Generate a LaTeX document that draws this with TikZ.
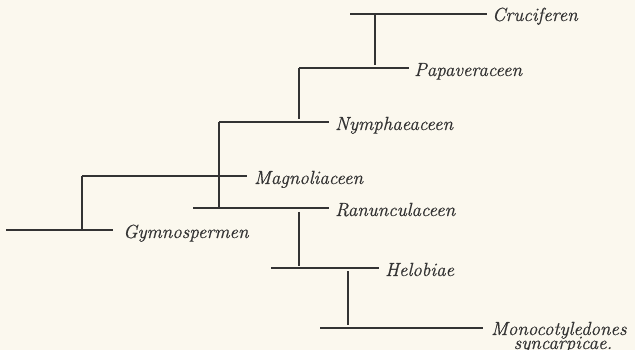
\documentclass[tikz,border=0pt]{standalone}
\usepackage{fontspec}
\newfontfamily\labfont{Latin Modern Roman}[ItalicFeatures={FakeBold=0.6}]
\definecolor{paper}{HTML}{FBF8EE}
\definecolor{ink}{HTML}{333333}
\begin{document}
\begin{tikzpicture}[x=1pt,y=-1pt,
  branch/.style={draw=ink,line width=1.9pt},
  taxon/.style={anchor=base west,inner sep=0pt,text=ink,font=\fontsize{19}{20}\labfont\itshape}]
\fill[paper] (0,0) rectangle (635,350);
\useasboundingbox (0,0) rectangle (635,350);
% labels
\node[taxon] (cru) at (492,21) {Cruciferen};
\node[taxon] (pap) at (414,76) {Papaveraceen};
\node[taxon] (nym) at (335,130) {Nymphaeaceen};
\node[taxon] (mag) at (254,184) {Magnoliaceen};
\node[taxon] (ran) at (335,216) {Ranunculaceen};
\node[taxon] (gym) at (123,238) {Gymnospermen};
\node[taxon] (hel) at (385,276) {Helobiae};
\node[taxon] (mon) at (491,335) {Monocotyledones};
\node[taxon,anchor=base] (syn) at (563,349) {syncarpicae.};
% left ends of branches
\coordinate (cl) at (350,14);
\coordinate (pl) at (299,68);
\coordinate (nl) at (219,122);
\coordinate (ml) at (82,176);
\coordinate (rl) at (193,208);
\coordinate (gl) at (6,230);
\coordinate (hl) at (271,268);
\coordinate (ol) at (320,328);
% junction tops
\coordinate (ja) at (375,14);
\coordinate (je) at (299,212);
\coordinate (jf) at (348,271);
% horizontals
\draw[branch,shorten >=5pt] (cl) -- (cl -| cru.west);
\draw[branch,shorten >=5pt] (pl) -- (pl -| pap.west);
\draw[branch,shorten >=6pt] (nl) -- (nl -| nym.west);
\draw[branch,shorten >=7pt] (ml) -- (ml -| mag.west);
\draw[branch,shorten >=6pt] (rl) -- (rl -| ran.west);
\draw[branch,shorten >=10pt] (gl) -- (gl -| gym.west);
\draw[branch,shorten >=6pt] (hl) -- (hl -| hel.west);
\draw[branch,shorten >=8pt] (ol) -- (ol -| mon.west);
% verticals
\draw[branch] (ja) -- ++(0,51);
\draw[branch] (pl) -- ++(0,51);
\draw[branch] (nl) -- (nl |- rl);
\draw[branch] (ml) -- (ml |- gl);
\draw[branch] (je) -- ++(0,54);
\draw[branch] (jf) -- ++(0,54);
\end{tikzpicture}
\end{document}
